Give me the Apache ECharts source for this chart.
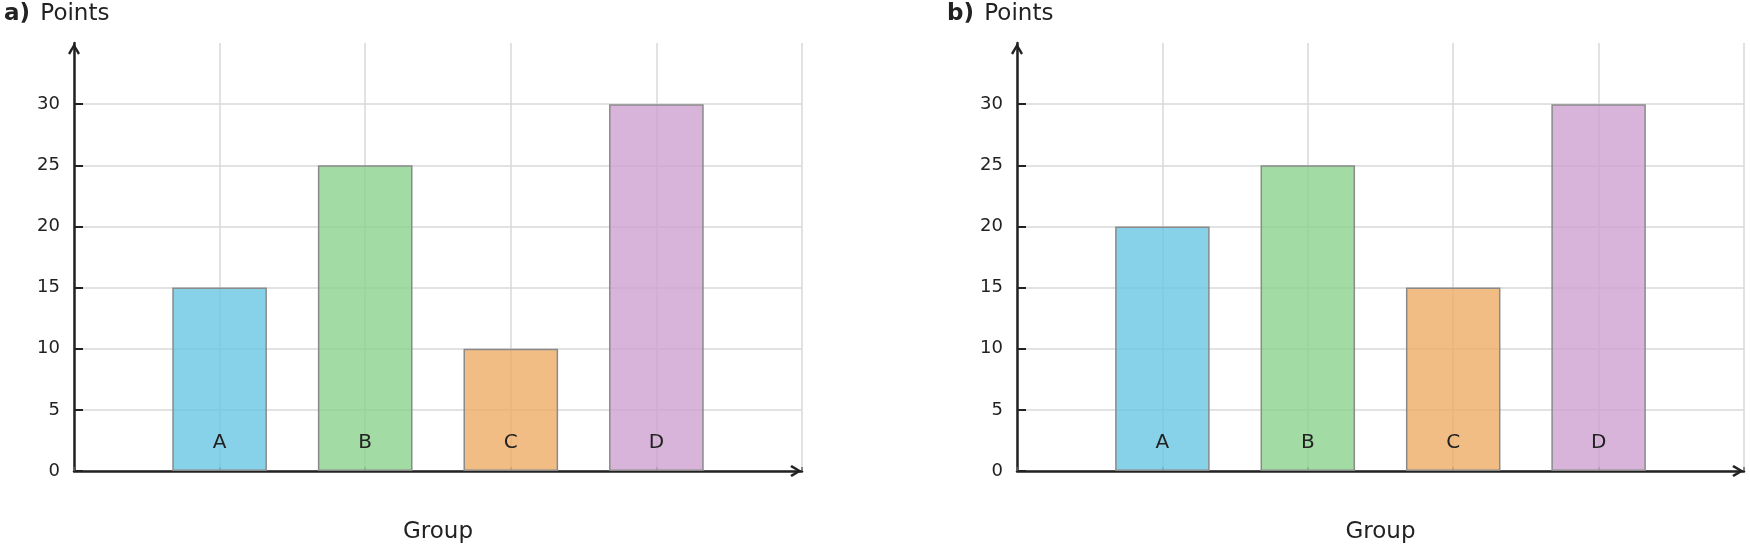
<!DOCTYPE html>
<html>
<head>
<meta charset="utf-8">
<script src="https://cdn.jsdelivr.net/npm/echarts@6/dist/echarts.min.js"></script>
<style>html,body{margin:0;padding:0;background:#fff;}#c{width:1750px;height:548px;}</style>
</head>
<body>
<div id="c"></div>
<script>
const categories = ['A', 'B', 'C', 'D'];
const valuesA = [15, 25, 10, 30];
const valuesB = [20, 25, 15, 30];
const yTicks = [0, 5, 10, 15, 20, 25, 30];
const yMax = 35;
const barColors = ['rgba(105,197,228,0.8)', 'rgba(139,211,141,0.8)', 'rgba(239,172,102,0.8)', 'rgba(206,161,210,0.8)'];
const panelTitles = ['a)', 'b)'];
const yName = 'Points';
const xName = 'Group';

const FONT = 'DejaVu Sans';
const INK = '#222222';
const ARROW = 'path://M6,0 L12,10 L10,11.6 L6,4.6 L2,11.6 L0,10 Z';

// padded categories so that A..D sit at positions 1..4 of a 0..5 axis
const paddedCats = [''].concat(categories, ['']);
function padded(vals) {
  const d = ['-'];
  vals.forEach((v, i) => d.push({ value: v, itemStyle: { color: barColors[i] } }));
  d.push('-');
  return d;
}

const grids = [
  { left: 74, top: 43, width: 728, height: 428, outerBoundsMode: 'none', containLabel: false },
  { left: 1017, top: 43, width: 727, height: 428, outerBoundsMode: 'none', containLabel: false }
];

const axisLineStyle = { show: true, lineStyle: { color: INK, width: 2.5 }, symbol: ['none', ARROW], symbolSize: [12, 12], symbolOffset: [0, -6] };

const xAxes = grids.map((g, i) => ({
  type: 'category', gridIndex: i, data: paddedCats, boundaryGap: false,
  name: xName, nameLocation: 'middle', nameGap: 50,
  nameTextStyle: { fontFamily: FONT, fontSize: 23, color: INK },
  axisLine: axisLineStyle,
  axisTick: { show: true, inside: true, length: 4, interval: 0, lineStyle: { color: '#666', width: 1.5 } },
  axisLabel: { show: false },
  splitLine: { show: true, interval: 0, lineStyle: { color: '#d9d9d9', width: 1.5 } }
}));

const yAxes = grids.map((g, i) => ({
  type: 'value', gridIndex: i, min: 0, max: yMax, interval: 5,
  axisLine: axisLineStyle,
  axisTick: { show: true, inside: true, length: 9, customValues: yTicks, lineStyle: { color: INK, width: 2 } },
  axisLabel: { show: true, margin: 14, customValues: yTicks, fontFamily: FONT, fontSize: 18, color: INK },
  splitLine: { show: true, lineStyle: { color: '#d9d9d9', width: 1.5 } }
}));

const titles = grids.map((g, i) => ({
  text: '{b|' + panelTitles[i] + '}' + ' ' + yName,
  left: g.left - 70, top: 3, padding: 0,
  textStyle: {
    fontFamily: FONT, fontSize: 23, fontWeight: 'normal', color: INK,
    rich: { b: { fontFamily: FONT, fontSize: 23, fontWeight: 'bold', color: INK, padding: [0, 3, 0, 0] } }
  }
}));

const seriesData = [valuesA, valuesB];
const series = seriesData.map((vals, i) => ({
  type: 'bar', xAxisIndex: i, yAxisIndex: i,
  data: padded(vals), barWidth: '65%',
  itemStyle: { borderColor: '#8a8a8a', borderWidth: 1.5 },
  label: { show: true, position: 'insideBottom', distance: 18, formatter: '{b}', fontFamily: FONT, fontSize: 20, color: INK },
  emphasis: { disabled: true }
}));

const chart = echarts.init(document.getElementById('c'), null, { renderer: 'canvas' });
chart.setOption({
  animation: false,
  backgroundColor: '#ffffff',
  title: titles,
  grid: grids,
  xAxis: xAxes,
  yAxis: yAxes,
  series: series
});
</script>
</body>
</html>
